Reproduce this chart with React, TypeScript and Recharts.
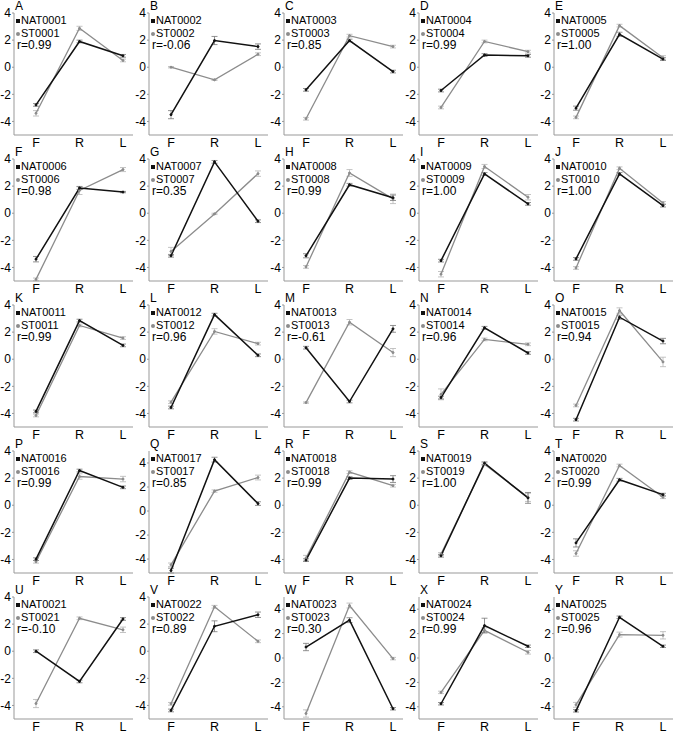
import { LineChart, Line, XAxis, YAxis, ErrorBar } from "recharts";

const stages = ["F", "R", "L"];
const letters = ["A", "B", "C", "D", "E", "F", "G", "H", "I", "J", "K", "L", "M", "N", "O", "P", "Q", "R", "S", "T", "U", "V", "W", "X", "Y"];
const natIds = ["NAT0001", "NAT0002", "NAT0003", "NAT0004", "NAT0005", "NAT0006", "NAT0007", "NAT0008", "NAT0009", "NAT0010", "NAT0011", "NAT0012", "NAT0013", "NAT0014", "NAT0015", "NAT0016", "NAT0017", "NAT0018", "NAT0019", "NAT0020", "NAT0021", "NAT0022", "NAT0023", "NAT0024", "NAT0025"];
const stIds = ["ST0001", "ST0002", "ST0003", "ST0004", "ST0005", "ST0006", "ST0007", "ST0008", "ST0009", "ST0010", "ST0011", "ST0012", "ST0013", "ST0014", "ST0015", "ST0016", "ST0017", "ST0018", "ST0019", "ST0020", "ST0021", "ST0022", "ST0023", "ST0024", "ST0025"];
const rValues = ["0.99", "-0.06", "0.85", "0.99", "1.00", "0.98", "0.35", "0.99", "1.00", "1.00", "0.99", "0.96", "-0.61", "0.96", "0.94", "0.99", "0.85", "0.99", "1.00", "0.99", "-0.10", "0.89", "0.30", "0.99", "0.96"];

// panels whose y axis runs up to 5
const tallPanels = ["Q", "W", "X", "Y"];

const natValues = [
  [-2.78, 1.9, 0.84], [-3.5, 1.97, 1.52], [-1.67, 1.97, -0.32], [-1.72, 0.9, 0.84], [-3.02, 2.43, 0.6],
  [-3.39, 1.86, 1.56], [-3.14, 3.79, -0.59], [-3.14, 2.1, 1.14], [-3.5, 2.9, 0.69], [-3.37, 2.9, 0.56],
  [-3.85, 2.85, 1.02], [-3.56, 3.29, 0.29], [0.85, -3.12, 2.24], [-2.83, 2.32, 0.46], [-4.46, 3.1, 1.34],
  [-3.98, 2.56, 1.32], [-4.96, 4.28, 0.62], [-4.05, 2.0, 1.93], [-3.73, 3.1, 0.54], [-2.78, 1.88, 0.78],
  [0.0, -2.23, 2.38], [-4.37, 1.84, 2.69], [0.9, 3.1, -4.16], [-3.75, 2.66, 0.96], [-4.33, 3.34, 0.96],
];
const stValues = [
  [-3.4, 2.87, 0.5], [0.0, -0.93, 0.96], [-3.8, 2.33, 1.52], [-2.97, 1.9, 1.15], [-3.7, 3.07, 0.7],
  [-4.88, 1.68, 3.22], [-2.82, -0.05, 2.92], [-3.96, 2.97, 1.06], [-4.5, 3.45, 1.18], [-4.04, 3.32, 0.76],
  [-4.15, 2.49, 1.56], [-3.17, 2.05, 1.15], [-3.2, 2.73, 0.49], [-2.59, 1.46, 1.1], [-3.41, 3.59, -0.2],
  [-4.17, 2.12, 1.93], [-4.48, 1.66, 2.79], [-3.9, 2.44, 1.44], [-3.6, 3.02, 0.58], [-3.56, 2.93, 0.59],
  [-3.86, 2.43, 1.58], [-3.88, 3.28, 0.73], [-4.55, 4.3, -0.05], [-2.82, 2.27, 0.47], [-3.84, 1.92, 1.86],
];
const natErrors = [
  [0.1, 0.1, 0.1], [0.3, 0.3, 0.2], [0.1, 0.1, 0.1], [0.1, 0.1, 0.1], [0.15, 0.15, 0.1],
  [0.2, 0.1, 0.05], [0.1, 0.1, 0.1], [0.15, 0.1, 0.2], [0.1, 0.1, 0.1], [0.1, 0.1, 0.1],
  [0.1, 0.1, 0.1], [0.1, 0.1, 0.1], [0.1, 0.1, 0.25], [0.1, 0.1, 0.1], [0.1, 0.15, 0.2],
  [0.1, 0.1, 0.1], [0.2, 0.2, 0.15], [0.1, 0.1, 0.25], [0.1, 0.1, 0.4], [0.3, 0.1, 0.1],
  [0.1, 0.1, 0.1], [0.1, 0.4, 0.2], [0.3, 0.2, 0.1], [0.1, 0.6, 0.1], [0.1, 0.1, 0.1],
];
const stErrors = [
  [0.2, 0.15, 0.1], [0.05, 0.05, 0.1], [0.1, 0.1, 0.1], [0.1, 0.1, 0.1], [0.1, 0.1, 0.15],
  [0.1, 0.3, 0.15], [0.3, 0.05, 0.2], [0.1, 0.25, 0.35], [0.2, 0.15, 0.2], [0.1, 0.1, 0.1],
  [0.1, 0.1, 0.1], [0.1, 0.2, 0.1], [0.05, 0.2, 0.3], [0.4, 0.1, 0.1], [0.1, 0.2, 0.35],
  [0.1, 0.2, 0.2], [0.15, 0.1, 0.2], [0.2, 0.1, 0.1], [0.1, 0.1, 0.3], [0.2, 0.1, 0.1],
  [0.3, 0.1, 0.2], [0.1, 0.1, 0.1], [0.3, 0.2, 0.1], [0.1, 0.2, 0.15], [0.2, 0.2, 0.3],
];

const FONT = '"Liberation Sans", Arial, sans-serif';
const NAT_COLOR = "#111";
const ST_COLOR = "#8c8c8c";

function Panel({ i }: { i: number }) {
  const tall = tallPanels.includes(letters[i]);
  const data = stages.map((s, k) => ({
    stage: s,
    nat: natValues[i][k],
    st: stValues[i][k],
    natErr: natErrors[i][k],
    stErr: stErrors[i][k],
  }));
  const col = i % 5;
  const row = Math.floor(i / 5);

  return (
    <div style={{ position: "absolute", left: col * 135, top: row * 146, width: 135, height: 150 }}>
      <LineChart width={135} height={150} data={data} margin={{ top: 13, right: 2, bottom: 0, left: 0 }}>
        <XAxis
          dataKey="stage"
          scale="point"
          padding={{ left: 22, right: 10 }}
          height={15}
          tickLine={false}
          tickSize={0}
          tickMargin={3}
          axisLine={{ stroke: "#999" }}
          tick={{ fill: "#000", fontSize: 12.5, fontFamily: FONT }}
        />
        <YAxis
          width={14}
          type="number"
          domain={tall ? [-5, 5] : [-5, 4]}
          ticks={[-4, -2, 0, 2, 4]}
          tickSize={2}
          tickMargin={1}
          tickLine={{ stroke: "#999" }}
          axisLine={{ stroke: "#999" }}
          tick={{ fill: "#000", fontSize: 12, fontFamily: FONT }}
        />
        <Line
          dataKey="st"
          stroke={ST_COLOR}
          strokeWidth={1.3}
          dot={{ r: 1, fill: ST_COLOR, stroke: ST_COLOR, strokeWidth: 1 }}
          isAnimationActive={false}
        >
          <ErrorBar dataKey="stErr" direction="y" width={3} stroke="#b5b5b5" strokeWidth={0.8} />
        </Line>
        <Line
          dataKey="nat"
          stroke={NAT_COLOR}
          strokeWidth={1.5}
          dot={{ r: 1, fill: NAT_COLOR, stroke: NAT_COLOR, strokeWidth: 1 }}
          isAnimationActive={false}
        >
          <ErrorBar dataKey="natErr" direction="y" width={3} stroke="#777" strokeWidth={0.8} />
        </Line>
      </LineChart>
      <div style={{ position: "absolute", left: 15, top: 0, fontSize: 12, fontFamily: FONT, lineHeight: "12px" }}>
        {letters[i]}
      </div>
      <div style={{ position: "absolute", left: 16, top: 14, fontSize: 11, fontFamily: FONT, lineHeight: "13px", whiteSpace: "nowrap" }}>
        <span style={{ display: "inline-block", width: 4, height: 4, background: NAT_COLOR, marginRight: 1, verticalAlign: "middle" }} />
        {natIds[i]}
      </div>
      <div style={{ position: "absolute", left: 16, top: 27, fontSize: 11, fontFamily: FONT, lineHeight: "13px", whiteSpace: "nowrap" }}>
        <span style={{ display: "inline-block", width: 4, height: 4, borderRadius: 2, background: ST_COLOR, marginRight: 1, verticalAlign: "middle" }} />
        {stIds[i]}
      </div>
      <div style={{ position: "absolute", left: 17, top: 38, fontSize: 12, fontFamily: FONT, lineHeight: "14px", whiteSpace: "nowrap" }}>
        r={rValues[i]}
      </div>
    </div>
  );
}

export default function App() {
  return (
    <div style={{ position: "absolute", left: 0, top: 0, width: 685, height: 734, background: "#fff" }}>
      {letters.map((_, i) => (
        <Panel key={i} i={i} />
      ))}
    </div>
  );
}
